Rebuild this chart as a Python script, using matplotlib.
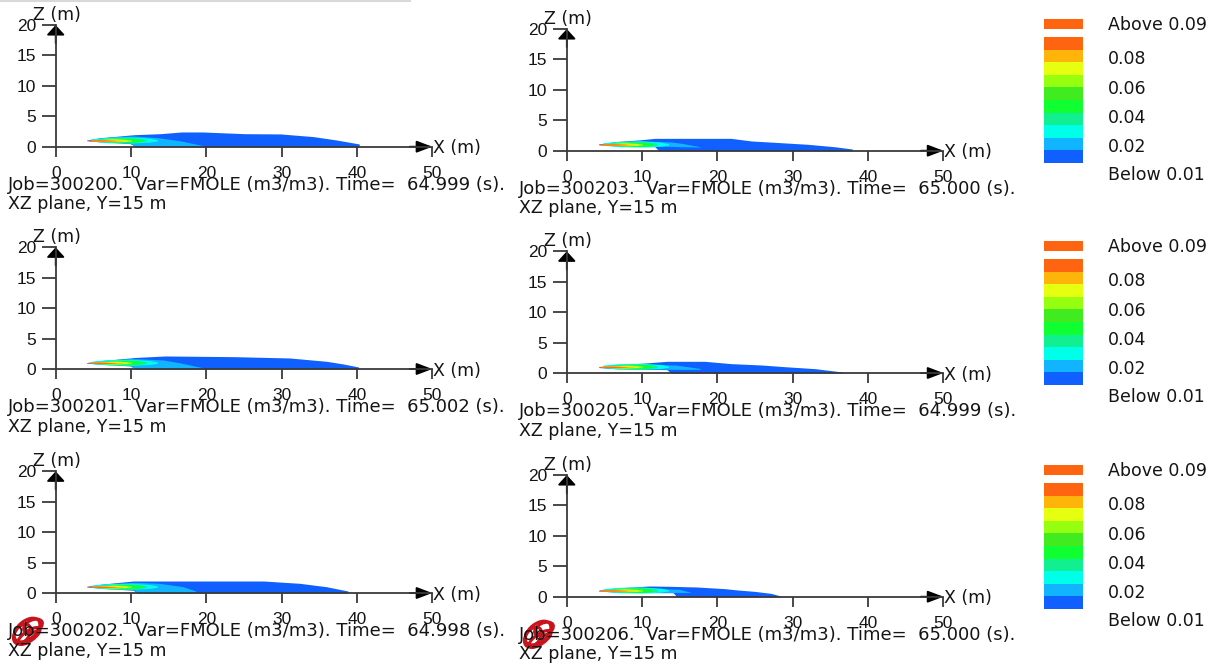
import matplotlib.pyplot as plt
from matplotlib.patches import Rectangle, Ellipse

plt.rcParams['font.family'] = ['DejaVu Sans']

W, H = 1219, 668

# panel order: row by row, left then right
jobs = ['300200', '300203', '300201', '300205', '300202', '300206']
times = ['64.999', '65.000', '65.002', '64.999', '64.998', '65.000']

x_ticks = [0, 10, 20, 30, 40, 50]
z_ticks = [0, 5, 10, 15, 20]

# colour scale, bottom (0.01) to top (0.09)
level_colors = ['#1060FF', '#10B4FF', '#00FFE8', '#10F090', '#10FF30',
                '#40EC20', '#96FF10', '#E6FF10', '#FFB40A', '#FF6410']
above_color = '#FF6410'
cbar_labels = ['Above 0.09', '0.08', '0.06', '0.04', '0.02', 'Below 0.01']

# outer plume (0.01-0.02), per panel
outer_x = [
    [4.1, 5.9, 8.0, 9.9, 10.6, 13.9, 16.7, 19.5, 25.1, 29.8, 34.2, 37.3, 40.3],
    [4.2, 6.4, 9.5, 11.7, 12.2, 21.8, 24.5, 28.4, 32.0, 35.5, 37.9],
    [4.1, 5.9, 9.9, 10.6, 14.5, 23.6, 31.1, 36.0, 38.2, 40.2],
    [4.2, 6.4, 10.4, 13.3, 13.8, 18.3, 21.8, 25.8, 28.9, 33.0, 36.6],
    [4.1, 5.9, 9.0, 10.3, 10.8, 27.6, 32.4, 35.9, 38.8],
    [4.2, 6.4, 11.0, 14.1, 14.6, 17.2, 21.0, 22.7, 24.9, 27.1, 28.4],
]
outer_top = [
    [1.1, 1.48, 1.7, 1.92, 1.98, 2.14, 2.42, 2.42, 2.14, 2.1, 1.66, 1.1, 0.45],
    [1.1, 1.49, 1.76, 2.03, 2.03, 2.03, 1.6, 1.32, 1.05, 0.66, 0.28],
    [1.04, 1.37, 1.81, 1.9, 2.14, 2.03, 1.81, 1.26, 0.82, 0.33],
    [0.99, 1.32, 1.64, 1.92, 1.92, 1.92, 1.54, 1.32, 1.04, 0.71, 0.16],
    [1.1, 1.43, 1.81, 1.97, 1.97, 1.97, 1.59, 1.04, 0.33],
    [1.05, 1.43, 1.76, 1.7, 1.68, 1.6, 1.32, 1.1, 0.88, 0.55, 0.11],
]
outer_bot = [
    [1.0, 0.8, 0.65, 0.5, 0, 0, 0, 0, 0, 0, 0, 0, 0],
    [1.0, 0.8, 0.7, 0.65, 0, 0, 0, 0, 0, 0, 0],
    [0.95, 0.8, 0.5, 0, 0, 0, 0, 0, 0, 0],
    [0.9, 0.7, 0.6, 0.55, 0, 0, 0, 0, 0, 0, 0],
    [1.0, 0.8, 0.55, 0.45, 0, 0, 0, 0, 0],
    [0.95, 0.75, 0.66, 0.66, 0, 0, 0, 0, 0, 0, 0],
]

# 0.02-0.03 band, per panel
band2_x = [
    [4.8, 7.3, 9.9, 10.6, 13.5, 16.6, 19.7],
    [5.0, 9.5, 13.9, 15.3, 17.7],
    [4.8, 7.3, 9.9, 10.6, 14.3, 16.6, 19.7],
    [5.0, 6.4, 10.4, 14.5, 17.7],
    [4.8, 7.3, 10.3, 10.8, 13.8, 16.9, 18.6],
    [5.3, 8.0, 12.0, 15.0, 16.5],
]
band2_top = [
    [1.2, 1.6, 1.75, 1.75, 1.5, 0.96, 0.15],
    [1.25, 1.65, 1.43, 1.2, 0.66],
    [1.15, 1.5, 1.7, 1.7, 1.48, 0.99, 0.16],
    [1.1, 1.3, 1.45, 1.3, 0.75],
    [1.2, 1.55, 1.75, 1.75, 1.59, 1.04, 0.33],
    [1.2, 1.35, 1.35, 1.2, 0.7],
]
band2_bot = [
    [0.95, 0.8, 0.6, 0, 0, 0, 0],
    [0.95, 0.75, 0.7, 0.65, 0.6],
    [0.9, 0.8, 0.6, 0, 0, 0, 0],
    [0.9, 0.75, 0.65, 0.6, 0.6],
    [0.95, 0.8, 0.6, 0, 0, 0, 0],
    [0.9, 0.75, 0.7, 0.7, 0.68],
]

# source core bands (0.03 and up), same for all panels
core_x = [
    [4.8, 7.0, 10.0, 12.5, 13.5],
    [5.5, 8.0, 10.5, 12.0],
    [6.0, 8.5, 10.5, 11.5],
    [6.0, 8.0, 10.0],
    [5.5, 7.5, 9.5],
    [4.6, 6.5, 9.0],
    [4.3, 6.0, 8.0],
]
core_top = [
    [1.3, 1.55, 1.6, 1.4, 1.15],
    [1.25, 1.45, 1.45, 1.2],
    [1.2, 1.4, 1.35, 1.15],
    [1.2, 1.33, 1.15],
    [1.15, 1.25, 1.1],
    [1.12, 1.18, 1.05],
    [1.1, 1.12, 1.03],
]
core_bot = [
    [0.9, 0.65, 0.6, 0.75, 0.95],
    [0.9, 0.7, 0.7, 0.9],
    [0.9, 0.75, 0.75, 0.95],
    [0.9, 0.8, 0.9],
    [0.9, 0.85, 0.95],
    [0.92, 0.88, 0.97],
    [0.95, 0.92, 0.98],
]
core_colors = ['#00FFE8', '#10F090', '#10FF30', '#96FF10', '#E6FF10', '#FFB40A', '#FF6410']

# layout (pixels)
col_x0 = [55.7, 566.8]
row_z0 = [[146.7, 369.0, 593.0], [150.7, 373.0, 596.7]]
ax_w, ax_h = 376.6, 121.7
cbar_dy = [0, 222, 446]
cbar_label_y = [25, 59, 88.5, 118, 147, 175.5]

ink = '#151515'
axc = '#3a3a3a'

fig = plt.figure(figsize=(W / 100, H / 100), dpi=100)

for i in range(6):
    row, col = i // 2, i % 2
    x0 = col_x0[col]
    z0 = row_z0[col][row]
    ax = fig.add_axes([x0 / W, (H - z0) / H, ax_w / W, ax_h / H])
    ax.set_xlim(0, 50)
    ax.set_ylim(0, 20)
    ax.patch.set_alpha(0)

    ax.fill_between(outer_x[i], outer_bot[i], outer_top[i], color=level_colors[0], lw=0)
    ax.fill_between(band2_x[i], band2_bot[i], band2_top[i], color=level_colors[1], lw=0)
    for cx, ct, cb, cc in zip(core_x, core_top, core_bot, core_colors):
        ax.fill_between(cx, cb, ct, color=cc, lw=0)

    for s in ['top', 'right']:
        ax.spines[s].set_visible(False)
    for s in ['left', 'bottom']:
        ax.spines[s].set_color(axc)
        ax.spines[s].set_linewidth(1.3)
        ax.spines[s].set_zorder(5)
    ax.set_xticks(x_ticks)
    ax.set_yticks(z_ticks)
    ax.tick_params(axis='x', direction='out', length=7.5, width=1.3, color=axc,
                   labelsize=12.5, labelcolor=ink, pad=6.5)
    ax.tick_params(axis='y', direction='out', length=10, width=1.3, color=axc,
                   labelsize=12.5, labelcolor=ink, pad=4)
    for lab in ax.get_xticklabels() + ax.get_yticklabels():
        lab.set_family(['Liberation Sans', 'DejaVu Sans'])

    ax.annotate('', xy=(50, 0), xytext=(47, 0), annotation_clip=False,
                arrowprops=dict(arrowstyle='-|>,head_length=0.95,head_width=0.36',
                                color='black', lw=1.3, shrinkA=0, shrinkB=0,
                                mutation_scale=10))
    ax.annotate('', xy=(0, 20), xytext=(0, 17), annotation_clip=False,
                arrowprops=dict(arrowstyle='-|>,head_length=0.6,head_width=0.55',
                                color='black', lw=1.3, shrinkA=0, shrinkB=0,
                                mutation_scale=10))

# overlay in pixel coordinates for labels and colour bars
ov = fig.add_axes([0, 0, 1, 1])
ov.set_xlim(0, W)
ov.set_ylim(H, 0)
ov.axis('off')
ov.patch.set_alpha(0)

ov.plot([0, 410], [1, 1], color='#d8d8d8', lw=1.5)

for i in range(6):
    row, col = i // 2, i % 2
    x0 = col_x0[col]
    z0 = row_z0[col][row]
    ov.text(x0 - 23, z0 - 132, 'Z (m)', fontsize=12.5, color=ink, va='center', ha='left')
    ov.text(x0 + 377, z0 + 1.5, 'X (m)', fontsize=12.5, color=ink, va='center', ha='left')
    ov.text(x0 - 48, z0 + 38.5,
            'Job=%s.  Var=FMOLE (m3/m3). Time=  %s (s).' % (jobs[i], times[i]),
            fontsize=13, color=ink, va='center', ha='left')
    ov.text(x0 - 48, z0 + 57.5, 'XZ plane, Y=15 m', fontsize=12.5, color=ink,
            va='center', ha='left')

for dy in cbar_dy:
    ov.add_patch(Rectangle((1044, 19 + dy), 39, 10, color=above_color, lw=0))
    seg = 126 / len(level_colors)
    for k, c in enumerate(level_colors):
        ov.add_patch(Rectangle((1044, 163 + dy - (k + 1) * seg), 39, seg,
                               color=c, lw=0))
    for lab, ly in zip(cbar_labels, cbar_label_y):
        ov.text(1108, ly + dy, lab, fontsize=12.5, color=ink, va='center', ha='left')

# red pen marks over the last row
for cx, cy in [(27, 630), (538, 633)]:
    for dx, ddy, w, h, a in [(0, 0, 30, 18, -40), (-5, 4, 22, 14, -55),
                             (6, -4, 20, 12, -25), (2, 6, 26, 10, -35)]:
        ov.add_patch(Ellipse((cx + dx, cy + ddy), w, h, angle=a, fill=False,
                             edgecolor='#C8141C', lw=2.2))

fig.savefig('out.png', dpi=100)
